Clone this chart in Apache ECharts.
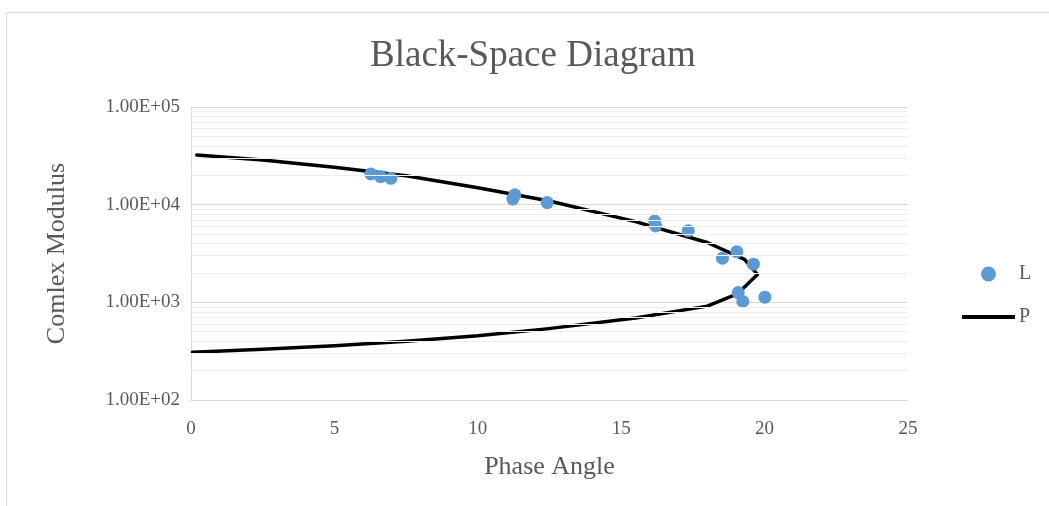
<!DOCTYPE html>
<html>
<head>
<meta charset="utf-8">
<script src="https://cdn.jsdelivr.net/npm/echarts@6/dist/echarts.min.js"></script>
<style>html,body{margin:0;padding:0;background:#fff}#c{width:1049px;height:506px}</style>
</head>
<body>
<div id="c"></div>
<script>
// Series L (measured points): [phase angle, complex modulus]
var lPhase = [6.27, 6.61, 6.97, 11.22, 11.29, 12.42, 16.17, 16.20, 17.34, 18.53, 19.03, 19.61, 19.08, 19.24, 20.01];
var lModulus = [20600, 19400, 18600, 11400, 12600, 10500, 6800, 6050, 5420, 2830, 3300, 2460, 1260, 1020, 1130];
// Series P (model curve)
var pPhase = [0.2, 2.5, 5, 7.5, 10, 12.5, 15.5, 18, 19.3, 19.75, 19.05, 18, 15.5, 12.4, 10, 7.5, 5, 2.5, 0.05];
var pModulus = [32300, 28600, 24200, 19800, 14900, 10900, 6700, 4100, 2750, 1930, 1220, 915, 690, 535, 455, 400, 360, 330, 308];
var xTicks = [0, 5, 10, 15, 20, 25];
var yTicks = [100, 1000, 10000, 100000];

var minorGrid = [];
for (var d = 100; d < 100000; d *= 10) {
  for (var k = 2; k <= 9; k++) minorGrid.push({ yAxis: d * k });
}

function fmtE(v) {
  var e = Math.round(Math.log10(v));
  var m = v / Math.pow(10, e);
  var es = (e < 10 ? '0' : '') + e;
  return m.toFixed(2) + 'E+' + es;
}

var font = '"Liberation Serif", "Times New Roman", serif';
var chart = echarts.init(document.getElementById('c'));
chart.setOption({
  animation: false,
  backgroundColor: '#fff',
  graphic: [{
    type: 'rect', left: 4, top: 10, silent: true, z: -10,
    shape: { x: 0.5, y: 0.5, width: 1100, height: 600 },
    style: { fill: 'none', stroke: '#d9d9d9', lineWidth: 1 }
  }],
  title: {
    text: 'Black-Space Diagram', left: 365, top: 33,
    textStyle: { fontFamily: font, fontSize: 37, fontWeight: 'normal', color: '#595959' }
  },
  legend: {
    orient: 'vertical', left: 957, top: 259, itemWidth: 53, itemHeight: 15, itemGap: 23,
    data: [
      { name: 'L', icon: 'circle' },
      { name: 'P', icon: 'path://M0,0 L53,0 L53,4 L0,4 Z' }
    ],
    textStyle: { fontFamily: font, fontSize: 20, color: '#595959', padding: [0, 0, 0, -1] }
  },
  grid: { left: 191, right: 141, top: 107, bottom: 106 },
  xAxis: {
    type: 'value', min: 0, max: 25, interval: 5,
    name: 'Phase Angle', nameLocation: 'middle', nameGap: 54,
    nameTextStyle: { fontFamily: font, fontSize: 26, color: '#595959' },
    axisLine: { show: true, lineStyle: { color: '#d9d9d9', width: 1 } },
    axisTick: { show: false },
    splitLine: { show: false },
    axisLabel: { fontFamily: font, fontSize: 19, color: '#595959', margin: 20,
      formatter: function (v) { return xTicks.indexOf(v) >= 0 ? String(v) : ''; } }
  },
  yAxis: {
    type: 'log', logBase: 10, min: 100, max: 100000,
    name: 'Comlex Modulus', nameLocation: 'middle', nameGap: 121, nameRotate: 90,
    nameTextStyle: { fontFamily: font, fontSize: 26, color: '#595959' },
    axisLine: { show: true, lineStyle: { color: '#d9d9d9', width: 1 } },
    axisTick: { show: false },
    splitLine: { show: true, lineStyle: { color: '#d9d9d9', width: 1 } },
    axisLabel: { fontFamily: font, fontSize: 19, color: '#595959', margin: 11,
      formatter: function (v) { return yTicks.indexOf(Math.round(v)) >= 0 ? fmtE(v) : ''; } }
  },
  series: [
    {
      name: 'grid', type: 'line', data: [], z: 1, silent: true,
      markLine: {
        silent: true, symbol: 'none', animation: false,
        label: { show: false },
        lineStyle: { color: '#efefef', width: 1, type: 'solid' },
        data: minorGrid
      }
    },
    {
      name: 'P', type: 'line', z: 3, symbol: 'none', smooth: false,
      color: '#000000',
      itemStyle: { color: '#000000' },
      lineStyle: { color: '#000000', width: 3.5, cap: 'round', join: 'round' },
      data: pPhase.map(function (x, i) { return [x, pModulus[i]]; })
    },
    {
      name: 'L', type: 'scatter', z: 4, symbol: 'circle', symbolSize: 13,
      itemStyle: { color: '#5b9bd5', opacity: 1 },
      data: lPhase.map(function (x, i) { return [x, lModulus[i]]; })
    }
  ]
});
</script>
</body>
</html>
